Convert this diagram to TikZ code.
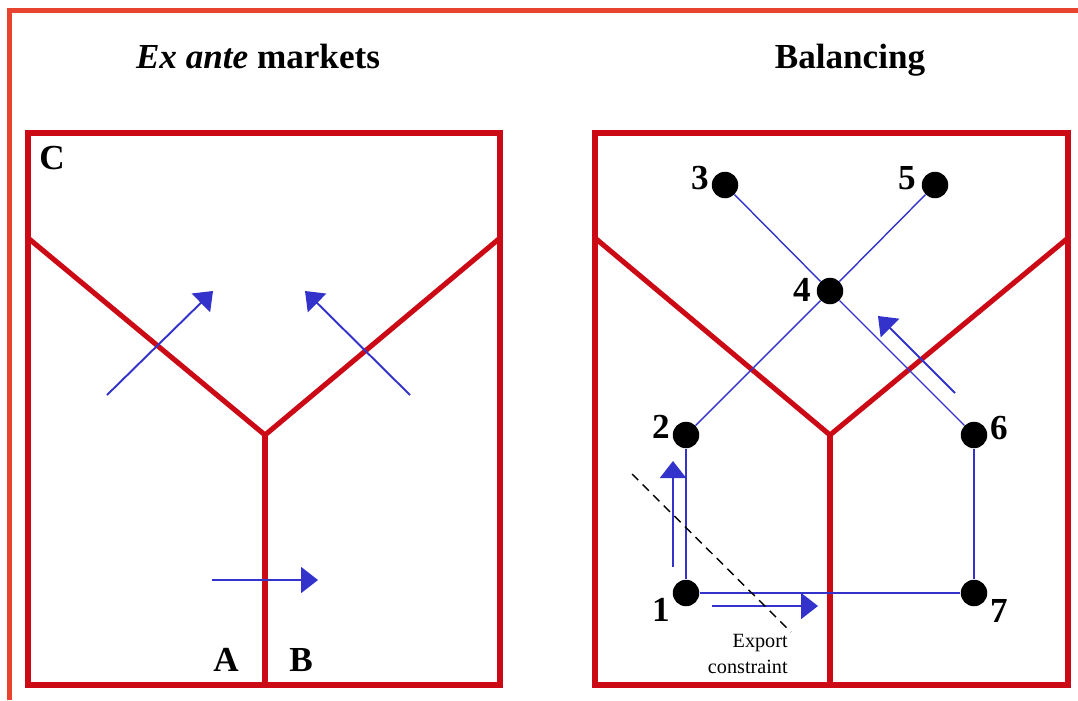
\documentclass[tikz,border=0pt]{standalone}
\usepackage{fontspec}
\setmainfont{Liberation Serif}
\usetikzlibrary{arrows.meta}
\definecolor{framered}{HTML}{E8432F}
\definecolor{boxred}{HTML}{CC0A16}
\definecolor{flowblue}{HTML}{3333CC}
\tikzset{
  zone/.style={boxred, line width=2.9pt, line join=miter},
  link/.style={flowblue, line width=0.8pt},
  flow/.style={flowblue, line width=1.1pt, -{Triangle[length=0.34cm,width=0.52cm]}},
  big/.style={font=\fontsize{20}{24}\selectfont\bfseries},
}

\begin{document}
\begin{tikzpicture}[x=0.02cm,y=-0.02cm]
\useasboundingbox (0,0) rectangle (1078,700);
\draw[framered, line width=2.8pt] (9.5,700) -- (9.5,10.5) -- (1078,10.5);

\node[big, anchor=base] (exante) at (258,68) {\textit{Ex ante} markets};
\node[big, anchor=base] (balancing) at (850,68) {Balancing};

% zones
\draw[zone] (28,133) rectangle (500,685);
\draw[zone] (28,238) -- (265,435) -- (500,238);
\draw[zone] (265,435) -- (265,685);
\draw[zone] (595,133) rectangle (1068,685);
\draw[zone] (595,238) -- (830,435) -- (1068,238);
\draw[zone] (830,435) -- (830,685);

\node[big] (C) at (52,158) {C};
\node[big] (A) at (226,660) {A};
\node[big] (B) at (301,660) {B};

% ex ante flows
\coordinate (a1s) at (107,395);
\coordinate (a1e) at (213,291);
\coordinate (a2s) at (410,395);
\coordinate (a2e) at (305,291);
\coordinate (a3s) at (212,580);
\coordinate (a3e) at (318,580);
\draw[flow] (a1s) -- (a1e);
\draw[flow] (a2s) -- (a2e);
\draw[flow] (a3s) -- (a3e);

% network
\begin{scope}[every node/.style={circle, fill=black, inner sep=0pt, minimum size=0.53cm}]
  \node (1) at (686,593) {};
  \node (2) at (686,435) {};
  \node (3) at (725,185) {};
  \node (4) at (830,291) {};
  \node (5) at (935,185) {};
  \node (6) at (974,435) {};
  \node (7) at (974,593) {};
\end{scope}
\begin{scope}[every node/.style={big}]
  \node (l1) at (661,610) {1};
  \node (l2) at (661,427) {2};
  \node (l3) at (700,178) {3};
  \node (l4) at (802,290) {4};
  \node (l5) at (907,178) {5};
  \node (l6) at (999,428) {6};
  \node (l7) at (999,611) {7};
\end{scope}
\path [link] (3) edge (4);
\path [link] (4) edge (6);
\path [link] (5) edge (4);
\path [link] (4) edge (2);
\path [link] (2) edge (1);
\path [link] (1) edge (7);
\path [link] (6) edge (7);

% balancing flows
\coordinate (b1s) at (673,567);
\coordinate (b1e) at (673,461);
\coordinate (b2s) at (712,606);
\coordinate (b2e) at (818,606);
\coordinate (b3s) at (955,393);
\coordinate (b3e) at (878,316);
\draw[flow] (b1s) -- (b1e);
\draw[flow] (b2s) -- (b2e);
\draw[flow] (b3s) -- (b3e);

% export constraint
\coordinate (c1) at (632,474);
\coordinate (c2) at (791,632);
\draw[black, line width=0.8pt, dash pattern=on 5pt off 3.5pt] (c1) -- (c2);
\node[anchor=east, align=right, font=\fontsize{11.5}{15}\selectfont, inner sep=0pt] (export) at (788,654) {Export\\constraint};
\end{tikzpicture}
\end{document}
